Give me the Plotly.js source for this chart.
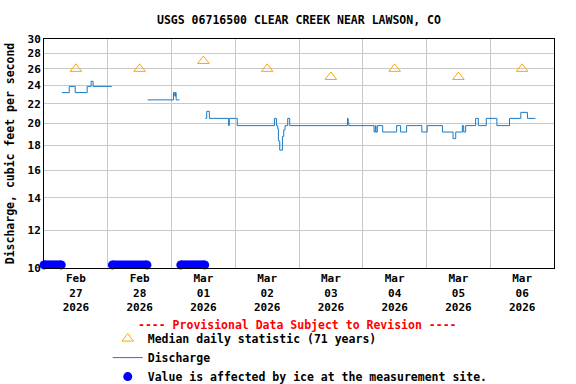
<!DOCTYPE html>
<html>
<head>
<meta charset="utf-8">
<script src="https://cdn.plot.ly/plotly-3.0.1.min.js"></script>
<style>
html,body{margin:0;padding:0;background:#fff;}
#chart{width:576px;height:384px;}
</style>
</head>
<body>
<div id="chart"></div>
<script>
// ---- Data ----
var titleText = "USGS 06716500 CLEAR CREEK NEAR LAWSON, CO";

// Median daily statistic (71 years), plotted at noon of each day
var medianDates = ["2026-02-27 12:00","2026-02-28 12:00","2026-03-01 12:00","2026-03-02 12:00",
                   "2026-03-03 12:00","2026-03-04 12:00","2026-03-05 12:00","2026-03-06 12:00"];
var medianValues = [26, 26, 27, 26, 25, 26, 25, 26];

// Discharge (cfs), change points of the 15-minute record; null = gap
var dischargeTimes = [
  "2026-02-27 06:45","2026-02-27 09:30","2026-02-27 11:45","2026-02-27 16:15","2026-02-27 17:45",
  "2026-02-27 18:30","2026-02-28 01:30",
  "2026-02-28 01:45",
  "2026-02-28 15:00","2026-03-01 00:45","2026-03-01 01:15","2026-03-01 01:30","2026-03-01 01:45",
  "2026-03-01 03:00",
  "2026-03-01 03:15",
  "2026-03-01 12:45","2026-03-01 13:15","2026-03-01 14:15","2026-03-01 21:30","2026-03-01 21:45",
  "2026-03-02 00:45","2026-03-02 14:45","2026-03-02 15:30","2026-03-02 16:00","2026-03-02 16:15",
  "2026-03-02 16:45","2026-03-02 17:45","2026-03-02 18:15","2026-03-02 18:45","2026-03-02 19:45",
  "2026-03-02 20:30","2026-03-03 18:15","2026-03-03 18:30","2026-03-03 18:45","2026-03-04 04:15",
  "2026-03-04 04:45","2026-03-04 05:00","2026-03-04 05:30","2026-03-04 07:30","2026-03-04 12:45",
  "2026-03-04 14:15","2026-03-04 16:30","2026-03-04 22:15","2026-03-05 00:15","2026-03-05 06:00",
  "2026-03-05 10:00","2026-03-05 11:00","2026-03-05 13:30","2026-03-05 14:00","2026-03-05 14:45",
  "2026-03-05 18:30","2026-03-05 19:30","2026-03-05 22:30","2026-03-06 02:30","2026-03-06 07:15",
  "2026-03-06 11:30","2026-03-06 14:00","2026-03-06 17:00"
];
var dischargeValues = [
  23.2, 23.9, 23.2, 23.9, 24.5,
  23.9, 23.9,
  null,
  22.4, 23.2, 22.8, 23.2, 22.4,
  22.4,
  null,
  20.5, 21.2, 20.5, 19.8, 20.5,
  19.8, 20.5, 19.8, 19.5, 18.4,
  17.6, 18.8, 19.4, 19.8, 20.5,
  19.8, 20.5, 20.1, 19.8, 19.2,
  19.8, 19.2, 19.8, 19.2, 19.8,
  19.2, 19.8, 19.2, 19.8, 19.2,
  18.6, 19.2, 19.8, 19.2, 19.8,
  20.5, 19.8, 20.5, 19.8, 20.5,
  21.1, 20.5, 20.5
];

// Periods where the value is affected by ice (drawn along the bottom)
var iceStart = ["2026-02-27 00:00","2026-02-28 01:45","2026-03-01 03:30"];
var iceEnd   = ["2026-02-27 06:30","2026-02-28 14:45","2026-03-01 12:30"];
var iceLevel = 10.15;

// Axis ticks
var dayNoon = ["2026-02-27 12:00","2026-02-28 12:00","2026-03-01 12:00","2026-03-02 12:00",
               "2026-03-03 12:00","2026-03-04 12:00","2026-03-05 12:00","2026-03-06 12:00"];
var dayLabels = ["Feb<br>27<br>2026","Feb<br>28<br>2026","Mar<br>01<br>2026","Mar<br>02<br>2026",
                 "Mar<br>03<br>2026","Mar<br>04<br>2026","Mar<br>05<br>2026","Mar<br>06<br>2026"];
var dayMidnights = ["2026-02-28","2026-03-01","2026-03-02","2026-03-03","2026-03-04","2026-03-05","2026-03-06"];
var yTicks = [10,12,14,16,18,20,22,24,26,28,30];

// ---- Build traces ----
var iceX = [], iceY = [];
for (var i = 0; i < iceStart.length; i++) {
  iceX.push(iceStart[i], iceEnd[i], null);
  iceY.push(iceLevel, iceLevel, null);
}

var FONT = "DejaVu Sans Mono, Liberation Mono, monospace";

var traces = [
  {
    x: medianDates, y: medianValues, type: "scatter", mode: "markers",
    name: "Median daily statistic (71 years)",
    marker: {symbol: "triangle-up-open", size: 10, color: "#FFA500", line: {width: 1, color: "#FFA500"}},
    cliponaxis: false
  },
  {
    x: dischargeTimes, y: dischargeValues, type: "scatter", mode: "lines",
    name: "Discharge", connectgaps: false,
    line: {color: "#1a7ac4", width: 1, shape: "hv"}
  },
  {
    x: iceX, y: iceY, type: "scatter", mode: "lines", showlegend: false,
    line: {color: "#0000ff", width: 9}, connectgaps: false, hoverinfo: "skip"
  },
  {
    x: iceX, y: iceY, type: "scatter", mode: "markers",
    name: "Value is affected by ice at the measurement site.",
    marker: {symbol: "circle", size: 9, color: "#0000ff"},
    cliponaxis: false
  }
];

var layout = {
  width: 576, height: 384,
  margin: {l: 44, r: 22, t: 39, b: 116, autoexpand: false},
  paper_bgcolor: "#ffffff", plot_bgcolor: "#ffffff",
  font: {family: FONT, size: 11, color: "#000000", weight: "bold"},
  title: {
    text: titleText, x: 0.519, xanchor: "center", y: 0.948, yanchor: "middle",
    font: {family: FONT, size: 11.5, color: "#000000", weight: "bold"}
  },
  showlegend: true,
  legend: {
    x: 0.125, xanchor: "left", y: -0.245, yanchor: "top",
    orientation: "v", bgcolor: "rgba(0,0,0,0)",
    font: {family: FONT, size: 11.5, color: "#000000", weight: "bold"},
    traceorder: "normal", itemwidth: 30
  },
  xaxis: {
    type: "date",
    range: ["2026-02-27 00:00", "2026-03-07 00:00"],
    tickmode: "array", tickvals: dayNoon, ticktext: dayLabels,
    showgrid: false, ticks: "", zeroline: false,
    showline: true, linecolor: "#000000", linewidth: 1, mirror: true,
    tickfont: {family: FONT, size: 11, color: "#000000", weight: "bold"},
    minor: {tickmode: "array", tickvals: dayMidnights, showgrid: true, gridcolor: "#c8c8c8", gridwidth: 1, ticks: ""},
    fixedrange: true
  },
  yaxis: {
    type: "log",
    range: [1, Math.log10(30)],
    tickmode: "array", tickvals: yTicks, ticktext: yTicks.map(String),
    showgrid: true, gridcolor: "#c8c8c8", gridwidth: 1,
    ticks: "", zeroline: false,
    showline: true, linecolor: "#000000", linewidth: 1, mirror: true,
    tickfont: {family: FONT, size: 11, color: "#000000", weight: "bold"},
    title: {text: "Discharge, cubic feet per second", standoff: 10,
            font: {family: FONT, size: 11.5, color: "#000000", weight: "bold"}},
    fixedrange: true
  },
  annotations: [
    {
      text: "---- Provisional Data Subject to Revision ----",
      xref: "paper", yref: "paper", x: 0.498, y: -0.25, xanchor: "center", yanchor: "middle",
      showarrow: false,
      font: {family: FONT, size: 11.5, color: "#ff0000", weight: "bold"}
    }
  ]
};

Plotly.newPlot("chart", traces, layout, {displayModeBar: false, staticPlot: true});
</script>
</body>
</html>
